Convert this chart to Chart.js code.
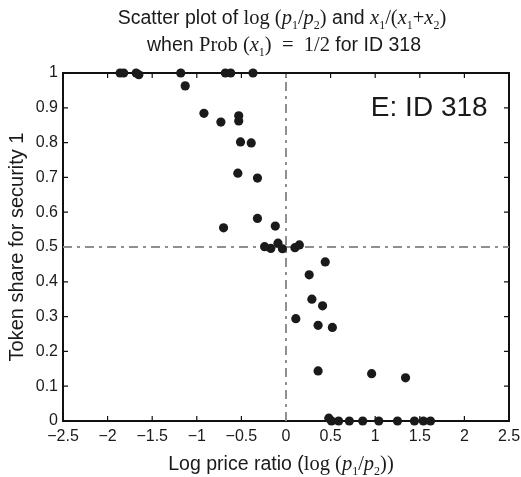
<!DOCTYPE html>
<html>
<head>
<meta charset="utf-8">
<script src="https://cdn.jsdelivr.net/npm/chart.js@4.4.0/dist/chart.umd.min.js"></script>
<style>
  html, body { margin: 0; padding: 0; background: #fff; }
  #wrap { width: 521px; height: 477px; }
</style>
</head>
<body>
<div id="wrap"><canvas id="chart" width="521" height="477"></canvas></div>
<script>
// --- data ---
const logRatio = [
    -1.86, -1.82, -1.68, -1.65, -1.18, -0.68, -0.62, -0.37,
    -1.13, -0.92, -0.73, -0.53, -0.53, -0.51, -0.39, -0.54, -0.32,
    -0.32, -0.70, -0.12, -0.24, -0.17, -0.09, -0.04, 0.10, 0.15,
    0.44, 0.26, 0.29, 0.41, 0.11, 0.36, 0.52, 0.36, 0.96, 1.34,
    0.48, 0.51, 0.59, 0.71, 0.86, 1.04, 1.25, 1.44, 1.54, 1.62
];
const tokenShare = [
    1.00, 1.00, 1.00, 0.995, 1.00, 1.00, 1.00, 1.00,
    0.963, 0.884, 0.859, 0.877, 0.862, 0.802, 0.799, 0.712, 0.698,
    0.582, 0.555, 0.560, 0.501, 0.496, 0.511, 0.495, 0.498, 0.506,
    0.457, 0.420, 0.350, 0.331, 0.294, 0.275, 0.269, 0.144, 0.136, 0.124,
    0.008, 0.00, 0.00, 0.00, 0.00, 0.00, 0.00, 0.00, 0.00, 0.00
];
const xTicks = [-2.5, -2, -1.5, -1, -0.5, 0, 0.5, 1, 1.5, 2, 2.5];
const yTicks = [0, 0.1, 0.2, 0.3, 0.4, 0.5, 0.6, 0.7, 0.8, 0.9, 1];
const zeroLineX = [0, 0];
const zeroLineY = [0, 1];
const halfLineX = [-2.5, 2.5];
const halfLineY = [0.5, 0.5];
const panelLabel = 'E: ID 318';

const SANS = "'Liberation Sans Narrow', 'Liberation Sans', Arial, sans-serif";
const SERIF = "'Liberation Serif', 'DejaVu Serif', serif";

// text with math pieces: s = sans, r = serif, i = serif italic, b = subscript
function drawRich(ctx, segs, cx, cy, size) {
    const fontFor = k => {
        if (k === 's') return size + 'px ' + SANS;
        if (k === 'r') return (size + 1) + 'px ' + SERIF;
        if (k === 'i') return 'italic ' + (size + 1) + 'px ' + SERIF;
        return Math.round(size * 0.62) + 'px ' + SERIF;
    };
    let total = 0;
    segs.forEach(s => { ctx.font = fontFor(s[1]); total += ctx.measureText(s[0]).width; });
    let x = cx - total / 2;
    ctx.textBaseline = 'alphabetic';
    ctx.textAlign = 'left';
    segs.forEach(s => {
        ctx.font = fontFor(s[1]);
        const dy = s[1] === 'b' ? size * 0.25 : 0;
        ctx.fillText(s[0], x, cy + size * 0.36 + dy);
        x += ctx.measureText(s[0]).width;
    });
}

const titleLine1 = [
    ['Scatter plot of ', 's'], ['log (', 'r'], ['p', 'i'], ['1', 'b'], ['/', 'r'], ['p', 'i'], ['2', 'b'], [')', 'r'],
    [' and ', 's'], ['x', 'i'], ['1', 'b'], ['/(', 'r'], ['x', 'i'], ['1', 'b'], ['+', 'r'], ['x', 'i'], ['2', 'b'], [')', 'r']
];
const titleLine2 = [
    ['when ', 's'], ['Prob (', 'r'], ['x', 'i'], ['1', 'b'], [')  =  1/2', 'r'], [' for ID 318', 's']
];
const xTitle = [
    ['Log price ratio (', 's'], ['log (', 'r'], ['p', 'i'], ['1', 'b'], ['/', 'r'], ['p', 'i'], ['2', 'b'], ['))', 'r']
];

const framePlugin = {
    id: 'frame',
    beforeDatasetsDraw(chart) {
        const { ctx, chartArea: a, scales } = chart;
        ctx.save();
        ctx.strokeStyle = '#111';
        ctx.lineWidth = 2;
        ctx.strokeRect(a.left, a.top, a.right - a.left, a.bottom - a.top);
        ctx.lineWidth = 1.2;
        ctx.beginPath();
        xTicks.forEach(v => {
            const px = scales.x.getPixelForValue(v);
            ctx.moveTo(px, a.bottom); ctx.lineTo(px, a.bottom - 5);
            ctx.moveTo(px, a.top); ctx.lineTo(px, a.top + 5);
        });
        yTicks.forEach(v => {
            const py = scales.y.getPixelForValue(v);
            ctx.moveTo(a.left, py); ctx.lineTo(a.left + 5, py);
            ctx.moveTo(a.right, py); ctx.lineTo(a.right - 5, py);
        });
        ctx.stroke();
        ctx.restore();
    },
    afterDraw(chart) {
        const { ctx, scales } = chart;
        ctx.save();
        ctx.fillStyle = '#1a1a1a';
        drawRich(ctx, titleLine1, 282, 17, 19.5);
        drawRich(ctx, titleLine2, 284, 44, 19.5);
        drawRich(ctx, xTitle, 281, 463, 19.5);
        ctx.font = '28px ' + "'Liberation Sans', Arial, sans-serif";
        ctx.textAlign = 'right';
        ctx.textBaseline = 'middle';
        ctx.fillText(panelLabel, scales.x.getPixelForValue(2.26), scales.y.getPixelForValue(0.90));
        ctx.restore();
    }
};

const fmt = v => (v < 0 ? '\u2212' + Math.abs(v) : String(v));

new Chart(document.getElementById('chart'), {
    type: 'scatter',
    data: {
        datasets: [
            {
                data: logRatio.map((v, i) => ({ x: v, y: tokenShare[i] })),
                backgroundColor: '#1a1a1a',
                borderColor: '#1a1a1a',
                pointRadius: 4.6,
                borderWidth: 0,
                clip: false,
                order: 0
            },
            {
                type: 'line',
                data: zeroLineX.map((v, i) => ({ x: v, y: zeroLineY[i] })),
                borderColor: '#8f8f8f',
                borderWidth: 2,
                borderDash: [9, 5, 3, 5],
                pointRadius: 0,
                order: 1
            },
            {
                type: 'line',
                data: halfLineX.map((v, i) => ({ x: v, y: halfLineY[i] })),
                borderColor: '#8f8f8f',
                borderWidth: 2,
                borderDash: [9, 5, 3, 5],
                pointRadius: 0,
                order: 1
            }
        ]
    },
    options: {
        responsive: false,
        animation: false,
        events: [],
        layout: { padding: { left: 0, top: 73, right: 12, bottom: 0 } },
        plugins: { legend: { display: false }, tooltip: { enabled: false } },
        scales: {
            x: {
                type: 'linear',
                min: -2.5,
                max: 2.5,
                afterBuildTicks: s => { s.ticks = xTicks.map(v => ({ value: v })); },
                afterFit: s => { s.height = 56; s.paddingLeft = 0; s.paddingRight = 0; },
                grid: { drawOnChartArea: false, drawTicks: false },
                border: { display: false },
                ticks: {
                    padding: 6,
                    color: '#1a1a1a',
                    font: { family: SANS, size: 16 },
                    maxRotation: 0,
                    callback: fmt
                }
            },
            y: {
                type: 'linear',
                min: 0,
                max: 1,
                afterBuildTicks: s => { s.ticks = yTicks.map(v => ({ value: v })); },
                afterFit: s => { s.width = 63; s.paddingTop = 0; s.paddingBottom = 0; },
                grid: { drawOnChartArea: false, drawTicks: false },
                border: { display: false },
                ticks: {
                    padding: 5,
                    color: '#1a1a1a',
                    font: { family: SANS, size: 16 },
                    callback: fmt
                },
                title: {
                    display: true,
                    text: 'Token share for security 1',
                    color: '#1a1a1a',
                    font: { family: SANS, size: 20 },
                    padding: { top: 5, bottom: 0 }
                }
            }
        }
    },
    plugins: [framePlugin]
});
</script>
</body>
</html>
